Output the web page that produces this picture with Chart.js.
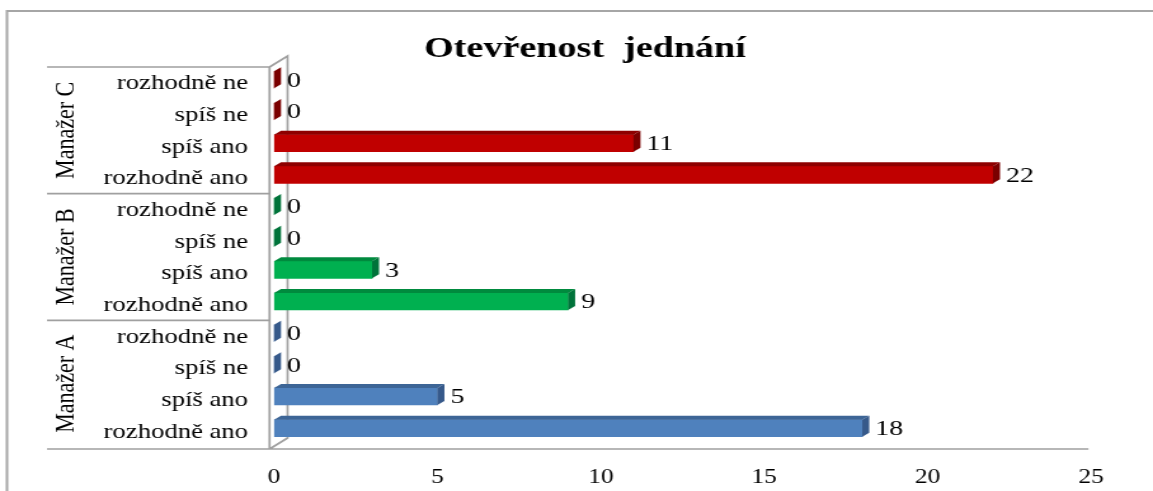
<!DOCTYPE html>
<html>
<head>
<meta charset="utf-8">
<script src="https://cdn.jsdelivr.net/npm/chart.js@4/dist/chart.umd.min.js"></script>
<style>
    html, body { margin: 0; padding: 0; background: #fff; overflow: hidden; }
    #chart { display: block; }
</style>
</head>
<body>
<!-- the reference picture is stretched sideways, so the canvas is drawn narrower and shown at full width -->
<canvas id="chart" width="908" height="491" style="width:1153px;height:491px"></canvas>
<script>
const chartTitle = 'Otevřenost  jednání';
const managers = ['Manažer C', 'Manažer B', 'Manažer A'];
const answers = ['rozhodně ne', 'spíš ne', 'spíš ano', 'rozhodně ano'];
const valuesC = [0, 0, 11, 22];
const valuesB = [0, 0, 3, 9];
const valuesA = [0, 0, 5, 18];
const xTicks = [0, 5, 10, 15, 20, 25];

// front, top and side colour of each manager's bars
const groupColors = [
    { front: '#c00000', top: '#8e0000', side: '#7a0000' },
    { front: '#00b050', top: '#008a3e', side: '#00733a' },
    { front: '#4f81bd', top: '#3d6596', side: '#36598a' },
];

const SX = 1153 / 908;      // horizontal stretch of the shown canvas
const DX = 7 / SX, DY = 4;  // depth of the 3D bars
const SERIF = '"Liberation Serif", "Times New Roman", serif';

const labels = [];
const values = [];
const fronts = [];
[valuesC, valuesB, valuesA].forEach((vals, g) => {
    vals.forEach((v, i) => {
        labels.push(answers[i]);
        values.push(v);
        fronts.push(groupColors[g].front);
    });
});

function poly(ctx, pts, color) {
    ctx.beginPath();
    ctx.moveTo(pts[0][0], pts[0][1]);
    for (let i = 1; i < pts.length; i++) ctx.lineTo(pts[i][0], pts[i][1]);
    ctx.closePath();
    ctx.fillStyle = color;
    ctx.fill();
}

const decor = {
    id: 'decor',
    beforeDraw(chart) {
        const { ctx, chartArea: a, scales: { y } } = chart;
        const rowH = (a.bottom - a.top) / labels.length;
        ctx.save();
        ctx.fillStyle = '#fff';
        ctx.fillRect(0, 0, chart.width, chart.height);

        // frame, only its top and left edges are in the picture
        ctx.strokeStyle = '#a6a6a6';
        ctx.lineWidth = 2;
        ctx.beginPath();
        ctx.moveTo(5.5, chart.height + 5);
        ctx.lineTo(5.5, 11);
        ctx.lineTo(chart.width + 5, 11);
        ctx.stroke();

        // title
        ctx.fillStyle = '#000';
        ctx.font = 'bold 30px ' + SERIF;
        ctx.textAlign = 'center';
        ctx.textBaseline = 'middle';
        ctx.fillText(chartTitle, 585 / SX, 49);

        // category box, group separators, walls
        const left = a.left - 3.5;
        const boxL = 47 / SX;
        const floorY = a.bottom + 5;
        ctx.strokeStyle = '#a0a0a0';
        ctx.lineWidth = 1.7;
        ctx.beginPath();
        for (let g = 0; g < managers.length; g++) {
            const yy = a.top + g * 4 * rowH + 3;
            ctx.moveTo(boxL, yy);
            ctx.lineTo(left, yy);
        }
        ctx.moveTo(boxL, floorY);
        ctx.lineTo(a.right - 2, floorY);
        ctx.moveTo(left, a.top + 3);
        ctx.lineTo(left, floorY);
        const backX = left + 18 / SX;
        ctx.moveTo(left, a.top + 3);
        ctx.lineTo(backX, a.top - 8);
        ctx.lineTo(backX, floorY - 11);
        ctx.lineTo(left, floorY);
        ctx.stroke();

        // answer labels
        ctx.fillStyle = '#000';
        ctx.font = '21px ' + SERIF;
        ctx.textAlign = 'right';
        ctx.textBaseline = 'middle';
        labels.forEach((lab, i) => {
            ctx.fillText(lab, a.left - 26 / SX, y.getPixelForValue(i) + 4);
        });

        // manager labels, rotated
        ctx.font = '22px ' + SERIF;
        ctx.textAlign = 'center';
        managers.forEach((m, g) => {
            const cy = a.top + (g * 4 + 2) * rowH + 3;
            ctx.save();
            ctx.translate(66 / SX, cy);
            ctx.rotate(-Math.PI / 2);
            ctx.fillText(m, 0, 0);
            ctx.restore();
        });
        ctx.restore();
    },
    afterDatasetsDraw(chart) {
        const { ctx } = chart;
        const meta = chart.getDatasetMeta(0);
        ctx.save();
        meta.data.forEach((el, i) => {
            const { x, y, base, height } = el.getProps(['x', 'y', 'base', 'height'], true);
            const col = groupColors[Math.floor(i / 4)];
            const yt = y - height / 2, yb = y + height / 2;
            if (x - base > 0.5) {
                poly(ctx, [[base, yt], [base + DX, yt - DY], [x + DX, yt - DY], [x, yt]], col.top);
            }
            poly(ctx, [[x, yt], [x + DX, yt - DY], [x + DX, yb - DY], [x, yb]], col.side);

            ctx.fillStyle = '#000';
            ctx.font = '22px ' + SERIF;
            ctx.textAlign = 'left';
            ctx.textBaseline = 'middle';
            ctx.fillText(String(values[i]), x + DX + 6 / SX, y + 1);
        });
        ctx.restore();
    }
};

new Chart(document.getElementById('chart'), {
    type: 'bar',
    data: {
        labels: labels,
        datasets: [{
            data: values,
            backgroundColor: fronts,
            borderWidth: 0,
            barThickness: 17,
        }]
    },
    options: {
        indexAxis: 'y',
        responsive: false,
        animation: false,
        layout: {
            padding: { left: 274 / SX, right: 908 - 1091 / SX, top: 64, bottom: 0 }
        },
        plugins: {
            legend: { display: false },
            tooltip: { enabled: false },
        },
        scales: {
            x: {
                min: 0,
                max: 25,
                afterBuildTicks: (s) => { s.ticks = xTicks.map(v => ({ value: v })); },
                afterFit: (s) => { s.height = 47; },
                grid: { display: false, drawTicks: false },
                border: { display: false },
                ticks: {
                    padding: 22,
                    color: '#000',
                    font: { family: SERIF, size: 20 },
                    maxRotation: 0,
                }
            },
            y: {
                display: false,
            }
        }
    },
    plugins: [decor]
});
</script>
</body>
</html>
